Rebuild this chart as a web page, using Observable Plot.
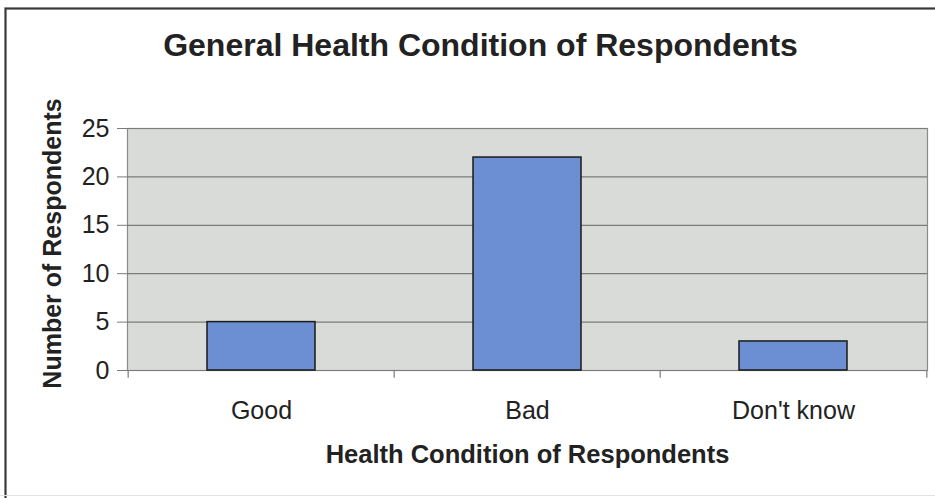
<!DOCTYPE html>
<html>
<head>
<meta charset="utf-8">
<script src="https://cdn.jsdelivr.net/npm/d3@7"></script>
<script src="https://cdn.jsdelivr.net/npm/@observablehq/plot@0.6"></script>
<style>
  html, body { margin: 0; padding: 0; background: #fff; }
  svg { display: block; }
</style>
</head>
<body>
<div id="chart"></div>
<script>
const categories = ["Good", "Bad", "Don't know"];
const counts = [5, 22, 3];
const yTicks = [0, 5, 10, 15, 20, 25];
const titleText = "General Health Condition of Respondents";
const xLabel = "Health Condition of Respondents";
const yLabel = "Number of Respondents";

const data = categories.map((c, i) => ({category: c, value: counts[i]}));

const W = 935, H = 498;
const mL = 127, mR = 8, mT = 128, mB = 128;
const innerH = H - mT - mB;
const step = (W - mL - mR) / categories.length;
const font = "'Liberation Sans', Arial, sans-serif";

const chart = Plot.plot({
  width: W,
  height: H,
  marginLeft: mL,
  marginRight: mR,
  marginTop: mT,
  marginBottom: mB,
  style: {fontFamily: font, background: "#fff", overflow: "hidden"},
  x: {domain: categories, paddingInner: 0.595, paddingOuter: 0.2975, label: null},
  y: {domain: [0, 25], label: null},
  marks: [
    // outer chart border: top and left (right/bottom fall outside the SVG)
    Plot.frame({stroke: "#3a3a3a", strokeWidth: 2.2, insetLeft: -(mL - 5), insetTop: -(mT - 8), insetRight: -(mR + 6), insetBottom: -(mB + 6)}),
    // faint bottom edge
    Plot.frame({stroke: "#e2e2e2", strokeWidth: 1, insetLeft: -(mL + 6), insetTop: innerH + mB - 3, insetRight: -(mR + 6), insetBottom: -(mB + 6)}),
    // plot area background + border
    Plot.frame({fill: "#d8dbd8", stroke: "#8a8c8a", strokeWidth: 1.2}),
    Plot.ruleY(yTicks, {stroke: "#7a7c7a", strokeWidth: 1.2}),
    Plot.barY(data, {x: "category", y: "value", fill: "#6b8fd2", stroke: "#1a1a1a", strokeWidth: 1.5}),
    // y axis ticks & labels
    Plot.axisY({ticks: yTicks, tickSize: 10, tickPadding: 8, fontSize: 25, color: "#222", stroke: "#7a7c7a", label: null}),
    Plot.axisX({tickSize: 0, tickPadding: 31, fontSize: 25, color: "#222", label: null}),
    // x tick marks at band boundaries
    Plot.ruleX(categories, {x: d => d, y1: 0, y2: -0.8, dx: -step / 2, stroke: "#7a7c7a", strokeWidth: 1.2}),
    Plot.ruleX([categories[categories.length - 1]], {x: d => d, y1: 0, y2: -0.8, dx: step / 2, stroke: "#7a7c7a", strokeWidth: 1.2}),
    // title
    Plot.text([titleText], {frameAnchor: "top", lineAnchor: "middle", textAnchor: "middle", dy: -82.5, dx: -47, fontSize: 32, fontWeight: "bold", fill: "#222", text: d => d}),
    // x label
    Plot.text([xLabel], {frameAnchor: "bottom", lineAnchor: "middle", textAnchor: "middle", dy: 84, fontSize: 25.5, fontWeight: "bold", fill: "#222", text: d => d}),
    // y label
    Plot.text([yLabel], {frameAnchor: "left", lineAnchor: "middle", textAnchor: "middle", dx: -75, dy: -6, rotate: -90, fontSize: 25, fontWeight: "bold", fill: "#222", text: d => d})
  ]
});
document.getElementById("chart").appendChild(chart);
</script>
</body>
</html>
